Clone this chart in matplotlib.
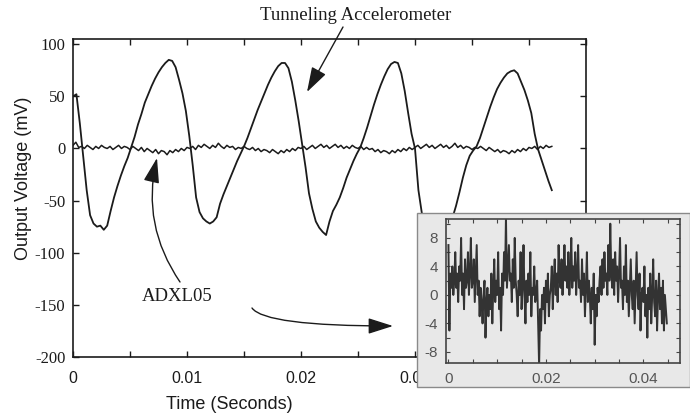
import numpy as np
import matplotlib.pyplot as plt
from matplotlib.patches import Rectangle
from matplotlib.ticker import MultipleLocator

plt.rcParams['axes.unicode_minus'] = False

SANS = 'Liberation Sans'
SERIF = 'Liberation Serif'
INK = '#1b1b1b'

# ---------------------------------------------------------------------------
# Values
# ---------------------------------------------------------------------------

# Tunneling accelerometer output (mV), one sample every 0.3 ms
tunnel_dt_ms = 0.3
tunnel_mv = [
    50, 52, 24, -8, -40, -64, -72, -75, -74, -78,
    -74, -60, -47, -36, -26, -17, -9, 1, 11, 23,
    33, 44, 52, 60, 67, 73, 78, 82, 85, 84,
    78, 66, 53, 36, 12, -16, -47, -61, -67, -70,
    -72, -70, -66, -53, -44, -36, -28, -20, -12, -5,
    2, 10, 19, 28, 37, 45, 53, 61, 68, 74,
    79, 82, 82, 77, 64, 46, 26, 4, -18, -43,
    -58, -70, -76, -80, -83, -70, -60, -54, -47, -38,
    -28, -20, -12, -5, 1, 10, 20, 31, 42, 52,
    61, 69, 76, 81, 83, 82, 72, 55, 34, 14,
    0, -40, -62, -72, -77, -78, -77, -76, -74, -72,
    -70, -66, -55, -42, -28, -16, -7, -2, 2, 10,
    20, 30, 40, 49, 57, 63, 68, 72, 74, 75,
    72, 64, 56, 46, 34, 14, -1, -11, -21, -31,
    -40,
]

# ADXL05 output in the main panel (mV), one sample every 0.25 ms
adxl_dt_ms = 0.25
adxl_mv = [
    3, 6, 1, 2, 0, 3, 1, -1, 2, 0, 3, 1, 0, 2, -1, 1,
    3, 0, 2, 1, -1, 2, 0, -2, 1, -3, 0, -2, -4, -1, -5, -2,
    -3, -6, -2, -4, -1, -3, 0, -2, 1, 0, 2, -1, 3, 1, 4, 2,
    0, 3, 1, 5, 2, 0, 3, 1, 2, -1, 1, 0, 2, 0, -1, 1,
    -2, 0, -3, -1, -2, -4, -1, -3, -5, -2, -4, -1, -3, 0, -2, 1,
    0, 2, -1, 1, 3, 0, 2, 4, 1, 3, 0, 2, 4, 1, 3, 0,
    2, 0, 3, 1, 0, 2, -1, 1, -1, 0, -3, -1, -4, -2, -3, -5,
    -2, -4, -1, -3, 0, -2, 1, -1, 1, 3, 0, 2, 4, 1, 3, 0,
    2, 4, 1, 3, 0, 2, 5, 1, 3, 0, 2, 1, -1, 1, 0, 2,
    0, -2, 1, -1, -3, -1, -4, -2, -3, -5, -2, -4, -1, -3, 0, -2,
    1, 0, 2, -1, 2, 0, 3, 1, 2,
]

# ADXL05 output in the inset (mV), one sample every 0.2 ms
inset_dt_ms = 0.2
inset_mv = [
    7, -5, 3, 1, 4, 0, 2, 6, 1, 3,
    -1, 4, 2, 8, 0, 3, -2, 5, 1, 2,
    6, 0, 3, 8, 1, 2, 5, -1, 3, 7,
    0, 2, -3, 1, -1, -4, 0, 2, -6, -1,
    1, -3, 0, -2, 3, -4, 1, 5, -1, 2,
    0, 6, -2, 1, -5, 3, 0, 6, 2, 11,
    1, 4, 7, 2, 3, -1, 5, 1, 8, 2,
    0, -3, 2, 0, 6, -2, 1, 7, 0, -4,
    2, -1, 3, 0, 6, -3, 1, 0, 4, -1,
    0, 2, -4, -10, -2, -5, 0, -2, 1, -4,
    2, -1, 3, -3, 0, 1, 4, -2, 2, 5,
    0, 3, -1, 7, 2, 1, 5, 0, 3, 7,
    2, 4, 1, 6, 0, 3, 8, 1, 4, 2,
    6, 0, 3, 7, 1, 2, -1, 5, 0, 3,
    -3, 1, 6, -1, 2, 0, -4, 1, -2, 3,
    -7, 0, -3, 1, -1, 2, 4, 0, 5, 1,
    6, 2, 3, 0, 7, 2, 10, 3, 1, 5,
    0, 6, 2, 4, -1, 3, 8, 1, 2, -2,
    4, 0, 7, -1, 2, -3, 1, 5, 0, -2,
    2, -4, 1, 6, 0, -2, 3, -5, 0, 1,
    -1, 4, -3, 0, -6, 1, -2, 3, -4, 0,
    5, -1, -3, 2, -5, 0, 3, -2, 1, -4,
    2, -5, 0, -2, -4,
]

# the 0.04 label of the main panel sits under the inset, so it stays blank
main_xticks = [0, 0.01, 0.02, 0.03, 0.04]
main_xlabels = ['0', '0.01', '0.02', '0.03', '']
main_yticks = [100, 50, 0, -50, -100, -150, -200]
main_ylabels = ['100', '50', '0', '-50', '-100', '-150', '-200']
inset_xticks = [0, 0.02, 0.04]
inset_xlabels = ['0', '0.02', '0.04']
inset_yticks = [8, 4, 0, -4, -8]
inset_ylabels = ['8', '4', '0', '-4', '-8']

tunnel_t = np.arange(len(tunnel_mv)) * tunnel_dt_ms / 1000
adxl_t = np.arange(len(adxl_mv)) * adxl_dt_ms / 1000
inset_t = np.arange(len(inset_mv)) * inset_dt_ms / 1000

# ---------------------------------------------------------------------------
# Layout helpers (image pixels, y measured from the top)
# ---------------------------------------------------------------------------
W, H = 690, 419
fig = plt.figure(figsize=(W / 100, H / 100), dpi=100)


def box(x0, y0, x1, y1):
    return [x0 / W, 1 - y1 / H, (x1 - x0) / W, (y1 - y0) / H]


def pt(x, y):
    return (x / W, 1 - y / H)


# ---- main panel -----------------------------------------------------------
ax = fig.add_axes(box(73, 39, 586, 357))
ax.plot(tunnel_t, tunnel_mv, color=INK, lw=1.3)
ax.plot(adxl_t, adxl_mv, color=INK, lw=1.1)
ax.set_xlim(0, 0.045)
ax.set_ylim(-200, 105)
ax.set_xticks(main_xticks, main_xlabels, fontfamily=SANS, fontsize=11.5)
ax.set_yticks(main_yticks, main_ylabels, fontfamily=SERIF, fontsize=12)
ax.xaxis.set_minor_locator(MultipleLocator(0.005))
ax.tick_params(which='both', direction='in', top=True, right=True,
               length=4, width=1, colors=INK)
ax.tick_params(axis='x', pad=10)
ax.tick_params(axis='y', pad=5.5)
for s in ax.spines.values():
    s.set_linewidth(1.2)
    s.set_color(INK)

ax.set_xlabel('Time (Seconds)', fontfamily=SANS, fontsize=13, color=INK)
ax.set_ylabel('Output Voltage (mV)', fontfamily=SANS, fontsize=13, color=INK)
ax.xaxis.set_label_coords((229 - 73) / 513, (357 - 396) / 318)
ax.yaxis.set_label_coords((32 - 73) / 513, (357 - 178) / 318)

# annotations
arrow = dict(arrowstyle='-|>,head_length=1.1,head_width=0.35', mutation_scale=14,
             color=INK, lw=1, shrinkA=0, shrinkB=0)
fig.text(*pt(356, 15), 'Tunneling Accelerometer', ha='center', va='center',
         family=SERIF, fontsize=13.5, color=INK)
ax.annotate('', xy=pt(307, 92), xytext=pt(343, 27), xycoords='figure fraction',
            arrowprops=arrow)
fig.text(*pt(177, 296), 'ADXL05', ha='center', va='center',
         family=SERIF, fontsize=13.5, color=INK)
ax.annotate('', xy=pt(157, 158), xytext=pt(180, 282), xycoords='figure fraction',
            arrowprops=dict(arrow, connectionstyle='arc3,rad=-0.22'))
ax.annotate('', xy=pt(393, 326), xytext=pt(252, 308), xycoords='figure fraction',
            arrowprops=dict(arrow, connectionstyle='angle3,angleA=-55,angleB=0'))

# ---- inset ------------------------------------------------------------------
fig.add_artist(Rectangle(pt(417, 387), (690 - 417) / W, (387 - 213) / H,
                         transform=fig.transFigure, facecolor='#e8e8e8',
                         edgecolor='#8a8a8a', lw=1, zorder=1))
iax = fig.add_axes(box(446, 218.7, 680, 363.3), zorder=2)
iax.set_facecolor('none')
iax.plot(inset_t, inset_mv, color='#333333', lw=1.4)
iax.set_xlim(-0.0005, 0.0475)
iax.set_ylim(-9.6, 10.7)
iax.set_xticks(inset_xticks, inset_xlabels, fontfamily=SANS, fontsize=11)
iax.set_yticks(inset_yticks, inset_ylabels, fontfamily=SANS, fontsize=11)
iax.xaxis.set_minor_locator(MultipleLocator(0.005))
iax.yaxis.set_minor_locator(MultipleLocator(2))
iax.tick_params(which='both', direction='in', top=True, right=True,
                length=3, width=0.8, colors='#444444', labelcolor='#555555')
iax.tick_params(axis='x', pad=6)
iax.tick_params(axis='y', pad=5.5)
for s in iax.spines.values():
    s.set_linewidth(1.2)
    s.set_color('#444444')

fig.savefig('out.png', dpi=100)
